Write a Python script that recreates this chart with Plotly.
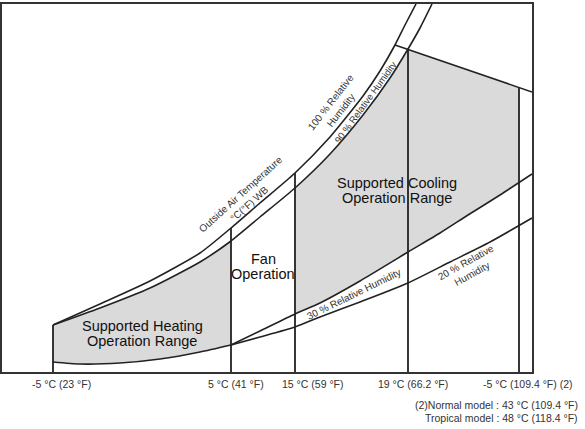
import numpy as np
import plotly.graph_objects as go

# schematic chart units: x to the right, y up from the bottom of the frame
# 100 % relative humidity curve
rh100_x = [53, 100, 150, 200, 231, 260, 295, 330, 363, 380, 395, 405, 416]
rh100_y = [47, 68, 91, 119, 144, 169, 199, 235, 276, 301, 327, 347, 368]
# 90 % relative humidity curve
rh90_x = [53, 100, 150, 200, 231, 260, 295, 330, 363, 390, 408, 420, 432]
rh90_y = [47, 64, 84, 110, 131, 155, 184, 218, 257, 294, 323, 344, 368]
# 30 % relative humidity curve
rh30_x = [231, 260, 295, 320, 360, 408, 440, 468, 500, 532]
rh30_y = [27, 41, 58, 69, 91, 120, 139, 157, 177, 198]
# 20 % relative humidity curve
rh20_x = [231, 260, 295, 320, 360, 408, 450, 490, 532]
rh20_y = [27, 35, 45, 55, 70, 89, 110, 130, 154]
# lower edge of the heating range
heat_low_x = [53, 80, 120, 160, 200, 231]
heat_low_y = [10, 8, 9, 13, 20, 27]
# upper edge of the cooling range
cool_top_x = [395, 532]
cool_top_y = [327, 280]

# outdoor temperature lines
temp_x = [53, 231, 295, 408, 519]
temp_labels = ["-5 °C (23 °F)", "5 °C (41 °F)", "15 °C (59 °F)",
               "19 °C (66.2 °F)", "-5 °C (109.4 °F) (2)"]
notes = ["(2)Normal model : 43 °C (109.4 °F)",
         "Tropical model : 48 °C (118.4 °F)"]

LINE = "#222222"
FILL = "#dadada"
FONT = "Liberation Sans, Arial, sans-serif"


def seg(xs, ys, x0, x1):
    xs = np.array(xs, dtype=float)
    ys = np.array(ys, dtype=float)
    inside = (xs > x0) & (xs < x1)
    sx = np.concatenate([[x0], xs[inside], [x1]])
    return list(sx), list(np.interp(sx, xs, ys))


fig = go.Figure()

# heating range (under the 90 % curve, -5 .. 5 C)
tx, ty = seg(rh90_x, rh90_y, temp_x[0], temp_x[1])
heat_x = tx + heat_low_x[::-1]
heat_y = ty + heat_low_y[::-1]
fig.add_trace(go.Scatter(x=heat_x, y=heat_y, fill="toself", fillcolor=FILL,
                         mode="none", hoverinfo="skip"))

# cooling range (15 .. 43 C, above 30 %)
ix, iy = seg(rh90_x, rh90_y, temp_x[2], temp_x[3])
cx, cy = seg(cool_top_x, cool_top_y, temp_x[3], temp_x[4])
bx, by = seg(rh30_x, rh30_y, temp_x[2], temp_x[4])
cool_x = ix + cx + bx[::-1]
cool_y = iy + cy + by[::-1]
fig.add_trace(go.Scatter(x=cool_x, y=cool_y, fill="toself", fillcolor=FILL,
                         mode="none", hoverinfo="skip"))

# curves
for xs, ys in [(rh100_x, rh100_y), (rh90_x, rh90_y), (rh30_x, rh30_y),
               (rh20_x, rh20_y), (heat_low_x, heat_low_y)]:
    fig.add_trace(go.Scatter(x=xs, y=ys, mode="lines",
                             line=dict(color=LINE, width=1.6, shape="spline", smoothing=0.6),
                             hoverinfo="skip"))
fig.add_trace(go.Scatter(x=cool_top_x, y=cool_top_y, mode="lines",
                         line=dict(color=LINE, width=1.6), hoverinfo="skip"))

# vertical temperature lines, up to the curve they meet
tops = [np.interp(temp_x[0], rh100_x, rh100_y),
        np.interp(temp_x[1], rh100_x, rh100_y),
        np.interp(temp_x[2], rh100_x, rh100_y),
        np.interp(temp_x[3], cool_top_x, cool_top_y),
        np.interp(temp_x[4], cool_top_x, cool_top_y)]
vx, vy = [], []
for x, t in zip(temp_x, tops):
    vx += [x, x, None]
    vy += [0, t, None]
fig.add_trace(go.Scatter(x=vx, y=vy, mode="lines",
                         line=dict(color=LINE, width=1.8), hoverinfo="skip"))

# temperature labels under the frame
tick_font = dict(family=FONT, size=10.5, color="#333333")
label_shift = [8, 5, 18, 5, 9]
for x, lab, s in zip(temp_x, temp_labels, label_shift):
    fig.add_annotation(x=x, y=0, text=lab, showarrow=False, xanchor="center",
                       yanchor="middle", xshift=s, yshift=-12, font=tick_font)
for i, n in enumerate(notes):
    fig.add_annotation(x=1, y=0, xref="paper", yref="paper", text=n, showarrow=False,
                       xanchor="right", yanchor="middle", xshift=48, yshift=-33 - 13 * i,
                       font=tick_font)

# region labels, one line at a time
big = dict(family=FONT, size=14.5, color="#111111")
regions = [
    (["Supported Heating", "Operation Range"], 142, 39),
    (["Fan", "Operation"], 263, 106),
    (["Supported Cooling", "Operation Range"], 397, 182),
]
for lines, x, y in regions:
    for k, t in enumerate(lines):
        fig.add_annotation(x=x, y=y, text=t, showarrow=False, xanchor="center",
                           yanchor="middle", yshift=7.5 - 15 * k, font=big)

# curve labels
small = dict(family=FONT, size=10, color="#333333")
curve_labels = [
    ("Outside Air Temperature<br>°C(°F) WB", 245, 173, -42, 10),
    ("100 % Relative<br>Humidity", 336, 266, -52, 10),
    ("90 % Relative Humidity", 365, 270, -54, 9.5),
    ("30 % Relative Humidity", 353, 78, -26, 10),
    ("20 % Relative<br>Humidity", 469, 104, -29, 10),
]
for t, x, y, a, s in curve_labels:
    fig.add_annotation(x=x, y=y, text=t, showarrow=False, textangle=a,
                       xanchor="center", yanchor="middle", font=dict(small, size=s))

fig.update_xaxes(range=[2, 532], showgrid=False, zeroline=False, showticklabels=False,
                 showline=True, mirror=True, linecolor="#333333", linewidth=2)
fig.update_yaxes(range=[0, 368], showgrid=False, zeroline=False, showticklabels=False,
                 showline=True, mirror=True, linecolor="#333333", linewidth=2)
fig.update_layout(width=585, height=429, margin=dict(l=2, r=53, t=4, b=57),
                  paper_bgcolor="white", plot_bgcolor="white", showlegend=False)

fig.write_html("out.html", config={"displayModeBar": False},
               post_script="document.body.style.margin='0';")
